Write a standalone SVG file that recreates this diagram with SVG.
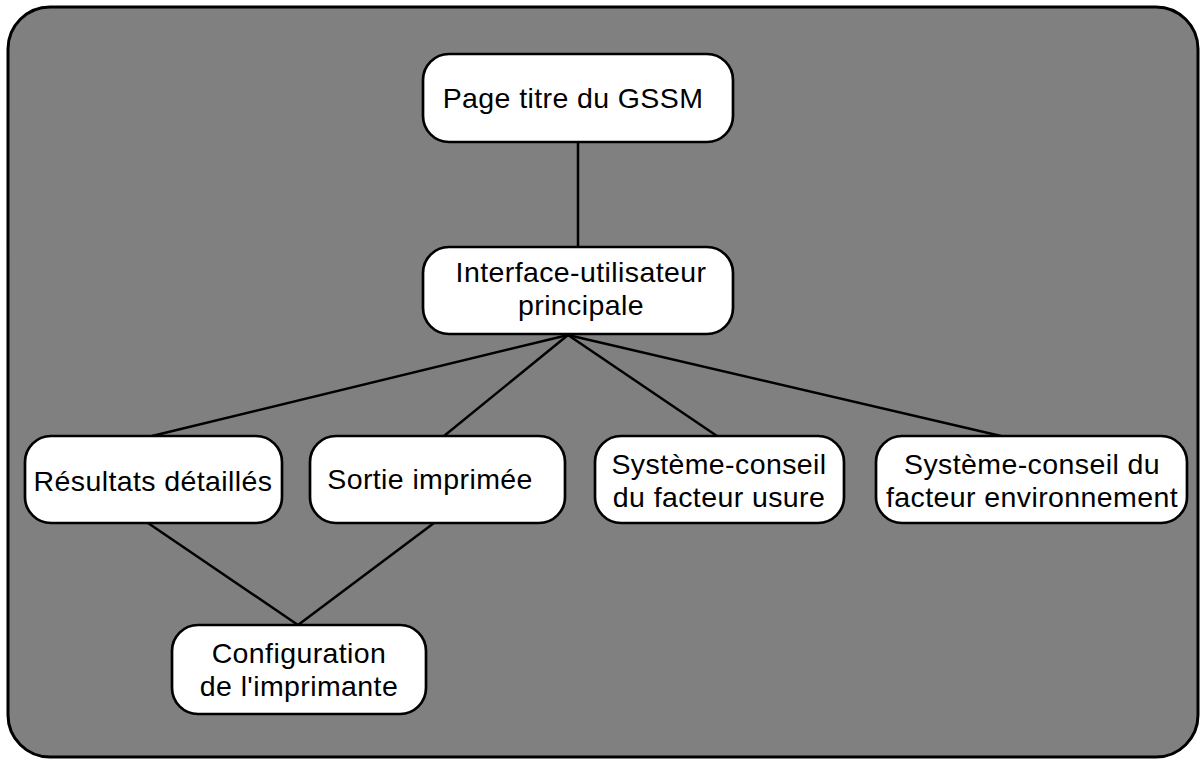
<svg xmlns="http://www.w3.org/2000/svg" width="1200" height="759" viewBox="0 0 1200 759">
<style>
.bg{fill:#808080;stroke:#000;stroke-width:3}
.n{fill:#fff;stroke:#000;stroke-width:2.7}
.c{stroke:#000;stroke-width:2.5;fill:none}
text{font-family:"Liberation Sans",Arial,sans-serif;font-size:28.5px;letter-spacing:0.4px;fill:#000;text-anchor:middle}
</style>
<rect class="bg" x="8" y="7" width="1190" height="750" rx="42" ry="42"/>
<g id="connectors">
<line class="c" x1="578" y1="142" x2="578" y2="247"/>
<line class="c" x1="568" y1="335" x2="152" y2="436"/>
<line class="c" x1="568" y1="335" x2="444" y2="436"/>
<line class="c" x1="568" y1="335" x2="717" y2="436"/>
<line class="c" x1="568" y1="335" x2="1001" y2="436"/>
<line class="c" x1="148" y1="523" x2="298" y2="625"/>
<line class="c" x1="434" y1="523" x2="298" y2="625"/>
</g>
<g id="page-titre">
<rect class="n" x="423" y="54" width="310" height="88" rx="26"/>
<text x="573" y="108">Page titre du GSSM</text>
</g>
<g id="interface">
<rect class="n" x="423" y="247" width="310" height="87" rx="26"/>
<text x="581" y="282">Interface-utilisateur</text>
<text x="581" y="315">principale</text>
</g>
<g id="resultats">
<rect class="n" x="25" y="436" width="257" height="87" rx="26"/>
<text x="153" y="491">Résultats détaillés</text>
</g>
<g id="sortie">
<rect class="n" x="310" y="436" width="255" height="87" rx="26"/>
<text x="430" y="489">Sortie imprimée</text>
</g>
<g id="usure">
<rect class="n" x="595" y="436" width="249" height="87" rx="26"/>
<text x="719" y="474">Système-conseil</text>
<text x="719" y="507">du facteur usure</text>
</g>
<g id="environnement">
<rect class="n" x="876" y="436" width="311" height="87" rx="26"/>
<text x="1032" y="474">Système-conseil du</text>
<text x="1032" y="507">facteur environnement</text>
</g>
<g id="configuration">
<rect class="n" x="172" y="625" width="254" height="89" rx="26"/>
<text x="299" y="663">Configuration</text>
<text x="299" y="696">de l'imprimante</text>
</g>
</svg>
